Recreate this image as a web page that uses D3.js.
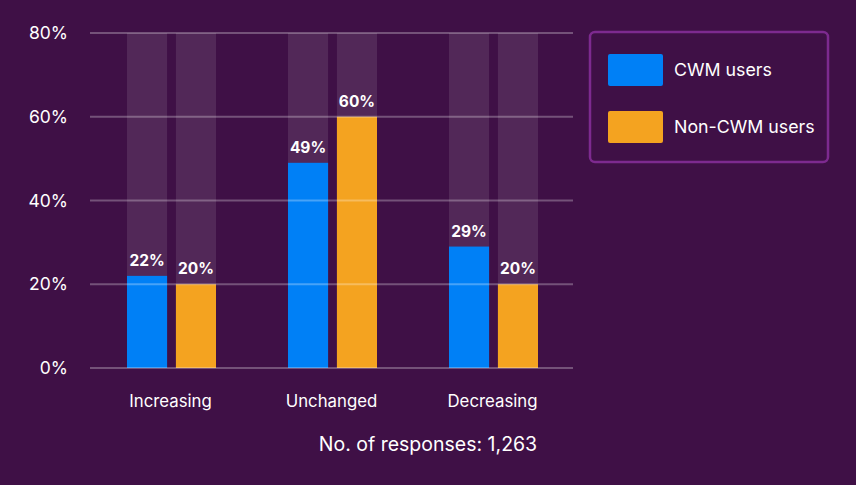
<!DOCTYPE html>
<html>
<head>
<meta charset="utf-8">
<script src="https://cdn.jsdelivr.net/npm/d3@7.9.0/dist/d3.min.js"></script>
<style>
  html, body { margin: 0; padding: 0; background: #3f1046; }
  svg { display: block; font-family: Inter, "Open Sans", sans-serif; }
</style>
</head>
<body>
<svg id="chart" width="856" height="485"></svg>
<script>
const categories = ['Increasing', 'Unchanged', 'Decreasing'];
const seriesNames = ['CWM users', 'Non-CWM users'];
const cwmValues = [22, 49, 29];
const nonCwmValues = [20, 60, 20];
const yTicks = [0, 20, 40, 60, 80];
const responsesNote = 'No. of responses: 1,263';

const colors = d3.scaleOrdinal().domain(seriesNames).range(['#0080f6', '#f4a320']);

const svg = d3.select('#chart');
const margin = { left: 90, right: 283, top: 33, bottom: 117 };
const width = 856 - margin.left - margin.right;
const height = 485 - margin.top - margin.bottom;

const g = svg.append('g').attr('transform', `translate(${margin.left},${margin.top})`);

const x0 = d3.scaleBand().domain(categories).range([0, width]);
const x1 = d3.scaleBand().domain(seriesNames).range([0, 89]).paddingInner(0.18);
const y = d3.scaleLinear().domain([0, 80]).range([height, 0]);

const rows = categories.map((c, i) => ({
  category: c,
  values: [
    { name: seriesNames[0], value: cwmValues[i] },
    { name: seriesNames[1], value: nonCwmValues[i] }
  ]
}));

// background track bars
const groups = g.selectAll('.group')
  .data(rows)
  .join('g')
  .attr('class', 'group')
  .attr('transform', (d) => `translate(${x0(d.category) + (x0.bandwidth() - 89) / 2 + 1},0)`);

groups.selectAll('rect.track')
  .data((d) => d.values)
  .join('rect')
  .attr('class', 'track')
  .attr('x', (d) => x1(d.name))
  .attr('y', y(80))
  .attr('width', x1.bandwidth())
  .attr('height', height)
  .attr('fill', '#ffffff')
  .attr('opacity', 0.1);

// gridlines
g.selectAll('.grid')
  .data(yTicks)
  .join('line')
  .attr('class', 'grid')
  .attr('x1', 0)
  .attr('x2', width)
  .attr('y1', (d) => y(d))
  .attr('y2', (d) => y(d))
  .attr('stroke', '#ffffff')
  .attr('stroke-opacity', 0.28)
  .attr('stroke-width', 2);

// y axis labels
g.selectAll('.ytick')
  .data(yTicks)
  .join('text')
  .attr('class', 'ytick')
  .attr('x', -22)
  .attr('y', (d) => y(d))
  .attr('dy', '0.35em')
  .attr('text-anchor', 'end')
  .attr('fill', '#ffffff')
  .attr('font-size', 17.5)
  .text((d) => d + '%');

// bars
groups.selectAll('rect.bar')
  .data((d) => d.values)
  .join('rect')
  .attr('class', 'bar')
  .attr('x', (d) => x1(d.name))
  .attr('y', (d) => y(d.value))
  .attr('width', x1.bandwidth())
  .attr('height', (d) => height - y(d.value))
  .attr('fill', (d) => colors(d.name));

groups.selectAll('text.val')
  .data((d) => d.values)
  .join('text')
  .attr('class', 'val')
  .attr('x', (d) => x1(d.name) + x1.bandwidth() / 2)
  .attr('y', (d) => y(d.value) - 10)
  .attr('text-anchor', 'middle')
  .attr('fill', '#ffffff')
  .attr('font-size', 15.5)
  .attr('font-weight', 700)
  .text((d) => d.value + '%');

// category labels
g.selectAll('.xlabel')
  .data(categories)
  .join('text')
  .attr('class', 'xlabel')
  .attr('x', (d) => x0(d) + x0.bandwidth() / 2)
  .attr('y', height + 39)
  .attr('text-anchor', 'middle')
  .attr('fill', '#ffffff')
  .attr('font-size', 16.8)
  .text((d) => d);

svg.append('text')
  .attr('x', 428)
  .attr('y', 451)
  .attr('text-anchor', 'middle')
  .attr('fill', '#ffffff')
  .attr('font-size', 19.5)
  .text(responsesNote);

// legend
const legend = svg.append('g').attr('transform', 'translate(590,32)');
legend.append('rect')
  .attr('width', 238)
  .attr('height', 130)
  .attr('rx', 5)
  .attr('fill', 'none')
  .attr('stroke', '#7d2a8f')
  .attr('stroke-width', 2.5);

const items = legend.selectAll('.item')
  .data(seriesNames)
  .join('g')
  .attr('class', 'item')
  .attr('transform', (d, i) => `translate(18,${22 + i * 57})`);

items.append('rect')
  .attr('width', 55)
  .attr('height', 32)
  .attr('rx', 2)
  .attr('fill', (d) => colors(d));

items.append('text')
  .attr('x', 66)
  .attr('y', 16)
  .attr('dy', '0.35em')
  .attr('fill', '#ffffff')
  .attr('font-size', 17.8)
  .text((d) => d);
</script>
</body>
</html>
